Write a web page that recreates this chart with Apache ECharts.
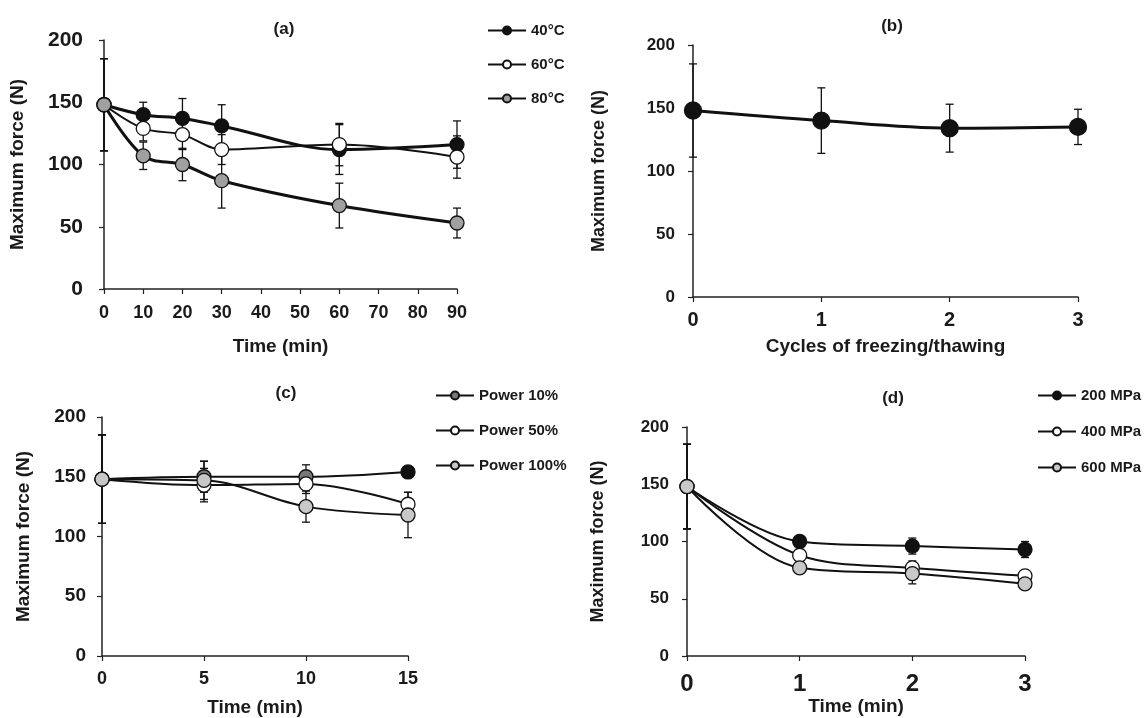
<!DOCTYPE html>
<html>
<head>
<meta charset="utf-8">
<script src="https://cdn.jsdelivr.net/npm/echarts@6/dist/echarts.min.js"></script>
<style>
  html, body { margin: 0; padding: 0; background: #fff; }
  #main { width: 1145px; height: 718px; }
</style>
</head>
<body>
<div id="main"></div>
<script>
// panel (a): temperature
var aTime = [0, 10, 20, 30, 60, 90];
var a40 = [148, 140, 137, 131, 112, 116];
var a40Err = [37, 10, 16, 17, 20, 19];
var a60 = [148, 129, 124, 112, 116, 106];
var a60Err = [37, 10, 12, 12, 17, 17];
var a80 = [148, 107, 100, 87, 67, 53];
var a80Err = [37, 11, 13, 22, 18, 12];

// panel (b): freezing / thawing
var bCycles = [0, 1, 2, 3];
var bVal = [148, 140, 134, 135];
var bErr = [37, 26, 19, 14];

// panel (c): power
var cTime = [0, 5, 10, 15];
var c10 = [148, 150, 150, 154];
var c10Err = [37, 13, 10, 4];
var c50 = [148, 143, 144, 127];
var c50Err = [37, 14, 8, 10];
var c100 = [148, 147, 125, 118];
var c100Err = [37, 16, 13, 19];

// panel (d): pressure
var dTime = [0, 1, 2, 3];
var d200 = [148, 100, 96, 93];
var d200Err = [37, 4, 7, 7];
var d400 = [148, 88, 77, 70];
var d400Err = [37, 3, 6, 3];
var d600 = [148, 77, 72, 63];
var d600Err = [37, 3, 9, 3];

var yTicks = [0, 50, 100, 150, 200];

window.onload = function () {
  var myChart = echarts.init(document.getElementById('main'));
  var FONT = '"Liberation Sans", Arial, sans-serif';
  var TXT = '#1a1a1a';

  function pairs(xs, ys) {
    var out = [];
    for (var i = 0; i < xs.length; i++) out.push([xs[i], ys[i]]);
    return out;
  }
  function triples(xs, ys, es) {
    var out = [];
    for (var i = 0; i < xs.length; i++) out.push([xs[i], ys[i], es[i]]);
    return out;
  }

  // error bar with caps
  function errRender(params, api) {
    var x = api.value(0), y = api.value(1), e = api.value(2);
    var top = api.coord([x, y + e]);
    var bot = api.coord([x, y - e]);
    var w = 4;
    var st = { stroke: '#111', lineWidth: 1.3 };
    return {
      type: 'group',
      children: [
        { type: 'line', shape: { x1: top[0], y1: top[1], x2: bot[0], y2: bot[1] }, style: st },
        { type: 'line', shape: { x1: top[0] - w, y1: top[1], x2: top[0] + w, y2: top[1] }, style: st },
        { type: 'line', shape: { x1: bot[0] - w, y1: bot[1], x2: bot[0] + w, y2: bot[1] }, style: st }
      ]
    };
  }

  function errSeries(idx, xs, ys, es) {
    return {
      type: 'custom', xAxisIndex: idx, yAxisIndex: idx,
      renderItem: errRender, data: triples(xs, ys, es),
      encode: { x: 0, y: 1 }, z: 1, silent: true
    };
  }

  function lineSeries(idx, name, xs, ys, fill, lw, size) {
    return {
      type: 'line', name: name, xAxisIndex: idx, yAxisIndex: idx,
      data: pairs(xs, ys), smooth: 0.35,
      symbol: 'circle', symbolSize: size,
      lineStyle: { color: '#111', width: lw },
      itemStyle: { color: fill, borderColor: '#111', borderWidth: 1.3 },
      z: 3
    };
  }

  function xAx(idx, min, max, interval, name, gap, lblSize, margin) {
    return {
      gridIndex: idx, type: 'value', min: min, max: max, interval: interval,
      name: name, nameLocation: 'middle', nameGap: gap,
      nameTextStyle: { fontFamily: FONT, fontWeight: 'bold', fontSize: 19, color: TXT },
      axisLine: { lineStyle: { color: '#222', width: 1.5 } },
      axisTick: { show: true, length: 5, lineStyle: { color: '#222', width: 1.2 } },
      axisLabel: { fontFamily: FONT, fontWeight: 'bold', fontSize: lblSize, color: TXT, margin: margin },
      splitLine: { show: false }
    };
  }

  function yAx(idx, gap, nameSize, lblSize, margin) {
    return {
      gridIndex: idx, type: 'value', min: 0, max: 200, interval: 50,
      name: 'Maximum force (N)', nameLocation: 'middle', nameGap: gap, nameRotate: 90,
      nameTextStyle: { fontFamily: FONT, fontWeight: 'bold', fontSize: nameSize, color: TXT },
      axisLine: { show: true, lineStyle: { color: '#222', width: 1.5 } },
      axisTick: { show: true, length: 5, lineStyle: { color: '#222', width: 1.2 } },
      axisLabel: { fontFamily: FONT, fontWeight: 'bold', fontSize: lblSize, color: TXT, margin: margin,
        formatter: function (v) { return yTicks.indexOf(v) >= 0 ? String(v) : ''; } },
      splitLine: { show: false }
    };
  }

  function legendAt(left, top, gap, names) {
    return {
      data: names, orient: 'vertical', left: left, top: top, padding: 0,
      itemWidth: 38, itemHeight: 10, itemGap: gap,
      textStyle: { fontFamily: FONT, fontWeight: 'bold', fontSize: 15, color: TXT },
      selectedMode: false
    };
  }

  function titleAt(text, x, y) {
    return {
      text: text, left: x, top: y, textAlign: 'center',
      textStyle: { fontFamily: FONT, fontWeight: 'bold', fontSize: 17, color: TXT }
    };
  }

  // power 10% last point is drawn black in the figure
  var c10Series = lineSeries(2, 'Power 10%', cTime, c10, '#777777', 2, 14);
  c10Series.data[c10Series.data.length - 1] = {
    value: c10Series.data[c10Series.data.length - 1],
    itemStyle: { color: '#111' }
  };

  var option = {
    backgroundColor: '#fff',
    animation: false,
    title: [
      titleAt('(a)', 279, 16),
      titleAt('(b)', 887, 13),
      titleAt('(c)', 281, 380),
      titleAt('(d)', 888, 385)
    ],
    legend: [
      legendAt(487, 23, 19, ['40°C', '60°C', '80°C']),
      legendAt(435, 388, 20, ['Power 10%', 'Power 50%', 'Power 100%']),
      legendAt(1037, 388, 21, ['200 MPa', '400 MPa', '600 MPa'])
    ],
    grid: [
      { left: 104, top: 40, width: 353, height: 249 },
      { left: 693, top: 45, width: 385, height: 252 },
      { left: 102, top: 417, width: 306, height: 239 },
      { left: 687, top: 427, width: 338, height: 229 }
    ],
    xAxis: [
      xAx(0, 0, 90, 10, 'Time (min)', 48, 18, 15),
      xAx(1, 0, 3, 1, 'Cycles of freezing/thawing', 40, 20, 13),
      xAx(2, 0, 15, 5, 'Time (min)', 42, 18, 14),
      xAx(3, 0, 3, 1, 'Time (min)', 41, 24, 16)
    ],
    yAxis: [
      yAx(0, 77, 19, 21, 21),
      yAx(1, 85, 18, 17, 18),
      yAx(2, 69, 19, 19, 16),
      yAx(3, 80, 18, 17, 18)
    ],
    series: [
      errSeries(0, aTime, a40, a40Err),
      errSeries(0, aTime, a60, a60Err),
      errSeries(0, aTime, a80, a80Err),
      lineSeries(0, '40°C', aTime, a40, '#111', 3, 14),
      lineSeries(0, '60°C', aTime, a60, '#fff', 2, 14),
      lineSeries(0, '80°C', aTime, a80, '#a0a0a0', 3, 14),

      errSeries(1, bCycles, bVal, bErr),
      lineSeries(1, 'b', bCycles, bVal, '#111', 3, 17),

      errSeries(2, cTime, c10, c10Err),
      errSeries(2, cTime, c50, c50Err),
      errSeries(2, cTime, c100, c100Err),
      c10Series,
      lineSeries(2, 'Power 50%', cTime, c50, '#fff', 2, 14),
      lineSeries(2, 'Power 100%', cTime, c100, '#c8c8c8', 2, 14),

      errSeries(3, dTime, d200, d200Err),
      errSeries(3, dTime, d400, d400Err),
      errSeries(3, dTime, d600, d600Err),
      lineSeries(3, '200 MPa', dTime, d200, '#111', 2, 14),
      lineSeries(3, '400 MPa', dTime, d400, '#fff', 2, 14),
      lineSeries(3, '600 MPa', dTime, d600, '#c8c8c8', 2, 14)
    ]
  };

  myChart.setOption(option);
};
</script>
</body>
</html>
